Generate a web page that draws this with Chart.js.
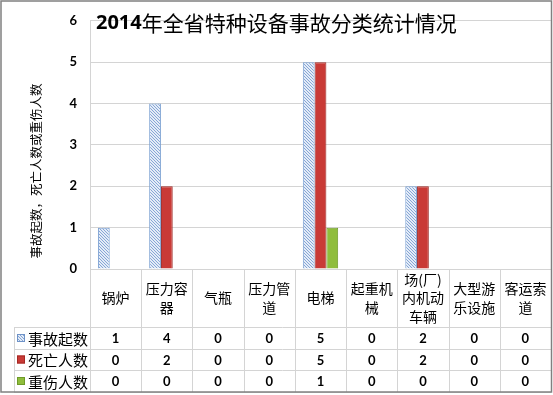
<!DOCTYPE html>
<html>
<head>
<meta charset="utf-8">
<script src="https://cdn.jsdelivr.net/npm/chart.js@4.4.1/dist/chart.umd.min.js"></script>
<style>
html, body { margin: 0; padding: 0; background: #fff; }
#wrap { width: 553px; height: 395px; }
</style>
</head>
<body>
<div id="wrap"><canvas id="bar-chart" width="553" height="395"></canvas></div>
<script>
// ======
// data
// ======
var categories = [['锅炉'], ['压力容', '器'], ['气瓶'], ['压力管', '道'], ['电梯'],
    ['起重机', '械'], ['场(厂)', '内机动', '车辆'], ['大型游', '乐设施'], ['客运索', '道']];
var seriesNames = ['事故起数', '死亡人数', '重伤人数'];
var accidents = [1, 4, 0, 0, 5, 0, 2, 0, 0];
var deaths = [0, 2, 0, 0, 5, 0, 2, 0, 0];
var injuries = [0, 0, 0, 0, 1, 0, 0, 0, 0];
var yTicks = [0, 1, 2, 3, 4, 5, 6];
var chartTitle = '全省特种设备事故分类统计情况';
var titleYear = '2014年';
var yTitle = '事故起数，死亡人数或重伤人数';

var cjk = '"Noto Sans CJK SC"';
var gridColor = '#d4d4d4';

var canvas = document.getElementById('bar-chart');
var ctx = canvas.getContext('2d');

// hatched fill for the first series
function makeHatch() {
    var c = document.createElement('canvas');
    c.width = 3; c.height = 3;
    var g = c.getContext('2d');
    g.fillStyle = '#e4ecf7';
    g.fillRect(0, 0, 3, 3);
    g.fillStyle = '#86a6d6';
    // diagonal "\" stripes, one pixel per row
    g.fillRect(0, 0, 1, 1);
    g.fillRect(1, 1, 1, 1);
    g.fillRect(2, 2, 1, 1);
    return ctx.createPattern(c, 'repeat');
}
var hatch = makeHatch();
var fills = [hatch, '#c93a36', '#8fbd3c'];
var keyBorders = ['#6f93c8', '#a52824', '#6e9a28'];

var tablePlugin = {
    id: 'dataTable',
    beforeDraw: function(chart) {
        var c = chart.ctx;
        c.save();
        c.fillStyle = '#fff';
        c.fillRect(0, 0, chart.width, chart.height);
        c.restore();
    },
    afterDraw: function(chart) {
        var c = chart.ctx;
        var a = chart.chartArea;
        var xs = chart.scales.x;
        var w = (a.right - a.left) / categories.length;
        var rows = [a.bottom + 58, a.bottom + 80, a.bottom + 101, a.bottom + 123];
        var values = [accidents, deaths, injuries];
        c.save();

        // table lines
        c.strokeStyle = gridColor;
        c.lineWidth = 1;
        c.beginPath();
        for (var r = 0; r < rows.length; r++) {
            c.moveTo(14, rows[r] + 0.5);
            c.lineTo(a.right, rows[r] + 0.5);
        }
        c.moveTo(14.5, rows[0]);
        c.lineTo(14.5, rows[3]);
        c.moveTo(a.left + 0.5, a.bottom);
        c.lineTo(a.left + 0.5, rows[3]);
        for (var i = 1; i < categories.length; i++) {
            var bx = Math.round(a.left + i * w) + 0.5;
            c.moveTo(bx, a.bottom);
            c.lineTo(bx, rows[3]);
        }
        c.stroke();

        // category labels
        c.fillStyle = '#000';
        c.textAlign = 'center';
        c.textBaseline = 'middle';
        c.font = '14px ' + cjk;
        var mid = (a.bottom + rows[0]) / 2;
        categories.forEach(function(lines, i) {
            var cx = xs.getPixelForValue(i);
            var lh = 18.5;
            var y0 = mid - (lines.length - 1) * lh / 2;
            lines.forEach(function(t, k) {
                c.fillText(t, cx, y0 + k * lh);
            });
        });

        // values
        c.font = 'bold 13px Lato';
        values.forEach(function(vals, s) {
            var cy = (rows[s] + rows[s + 1]) / 2 + 1;
            vals.forEach(function(v, i) {
                c.fillText(String(v), xs.getPixelForValue(i), cy);
            });
        });

        // legend keys + names
        c.textAlign = 'left';
        c.font = '15px ' + cjk;
        seriesNames.forEach(function(n, s) {
            var cy = (rows[s] + rows[s + 1]) / 2;
            c.fillStyle = fills[s];
            c.fillRect(17, cy - 4, 8, 8);
            c.strokeStyle = keyBorders[s];
            c.strokeRect(17.5, cy - 3.5, 7, 7);
            c.fillStyle = '#000';
            c.fillText(n, 28, cy + 1);
        });

        // y axis title
        c.save();
        c.translate(36, 171);
        c.rotate(-Math.PI / 2);
        c.textAlign = 'center';
        c.font = '12.5px ' + cjk;
        c.fillText(yTitle, 0, 0);
        c.restore();

        // chart title
        c.textAlign = 'left';
        c.font = 'bold 20px "Open Sans"';
        var yearNum = titleYear.replace('年', '');
        c.fillText(yearNum, 96, 23);
        var yw = c.measureText(yearNum).width;
        c.font = '21px ' + cjk;
        c.fillText('年' + chartTitle, 96 + yw, 23);

        // outer border
        c.strokeStyle = '#808080';
        c.lineWidth = 1.5;
        c.strokeRect(1, 1, 550.5, 391);
        c.restore();
    }
};

new Chart(canvas, {
    type: 'bar',
    data: {
        labels: categories.map(function(c) { return c.join(''); }),
        datasets: [{
            label: seriesNames[0],
            data: accidents,
            backgroundColor: hatch,
            borderColor: '#7ea3d4',
            borderWidth: 1
        }, {
            label: seriesNames[1],
            data: deaths,
            backgroundColor: '#c93a36',
            borderColor: '#9e2a26',
            borderWidth: 1
        }, {
            label: seriesNames[2],
            data: injuries,
            backgroundColor: '#8fbd3c',
            borderColor: '#6e9a28',
            borderWidth: 1
        }]
    },
    options: {
        responsive: false,
        animation: false,
        categoryPercentage: 0.69,
        barPercentage: 1.0,
        layout: { padding: { top: 9, left: 0, right: 2, bottom: 3 } },
        plugins: {
            legend: { display: false },
            title: { display: false },
            tooltip: { enabled: false }
        },
        scales: {
            x: {
                grid: { display: false },
                border: { display: true, color: gridColor },
                ticks: { display: false },
                afterFit: function(scale) { scale.height = 123; }
            },
            y: {
                min: 0,
                max: 6,
                afterBuildTicks: function(scale) {
                    scale.ticks = yTicks.map(function(v) { return { value: v }; });
                },
                grid: { color: gridColor, drawTicks: false },
                border: { display: true, color: gridColor },
                ticks: {
                    padding: 13,
                    color: '#000',
                    font: { family: 'Lato', weight: 'bold', size: 13 }
                },
                afterFit: function(scale) { scale.width = 90; }
            }
        }
    },
    plugins: [tablePlugin]
});
</script>
</body>
</html>
